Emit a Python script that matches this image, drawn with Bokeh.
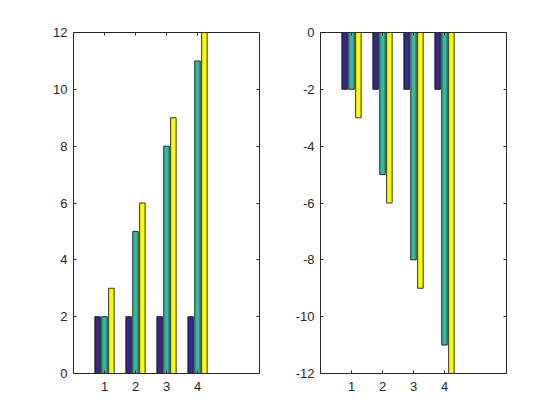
from bokeh.plotting import figure
from bokeh.layouts import row
from bokeh.models import LinearAxis, FixedTicker, Range1d, CustomJSTickFormatter
from bokeh.transform import dodge
from bokeh.models import ColumnDataSource
from bokeh.embed import file_html
from bokeh.resources import INLINE

groups = [1, 2, 3, 4]
series_1 = [2, 2, 2, 2]
series_2 = [2, 5, 8, 11]
series_3 = [3, 6, 9, 12]
neg_series_1 = [-2, -2, -2, -2]
neg_series_2 = [-2, -5, -8, -11]
neg_series_3 = [-3, -6, -9, -12]
left_yticks = [0, 2, 4, 6, 8, 10, 12]
right_yticks = [-12, -10, -8, -6, -4, -2, 0]

colors = ["#352a87", "#33b8a1", "#f9fb0e"]
offsets = [-0.2222, 0.0, 0.2222]
bar_w = 0.1778
AX = "#262626"
FONT = "Liberation Sans"


def make(series, yrange, yticks, bl, br):
    p = figure(frame_width=186, frame_height=341, output_backend="svg",
               toolbar_location=None, x_range=Range1d(0, 6),
               y_range=Range1d(*yrange),
               min_border_left=bl, min_border_right=br,
               min_border_top=32, min_border_bottom=30,
               background_fill_color="white", border_fill_color="white")
    p.grid.visible = False
    p.outline_line_color = None
    src = ColumnDataSource(dict(x=groups, s0=series[0], s1=series[1], s2=series[2]))
    for i, key in enumerate(["s0", "s1", "s2"]):
        p.vbar(x=dodge("x", offsets[i], range=p.x_range), top=key, bottom=0,
               width=bar_w, source=src, fill_color=colors[i],
               line_color="black", line_width=0.8)
    p.add_layout(LinearAxis(formatter=CustomJSTickFormatter(code="return ''")), "right")
    p.add_layout(LinearAxis(formatter=CustomJSTickFormatter(code="return ''")), "above")
    for ax in p.xaxis:
        ax.ticker = FixedTicker(ticks=groups)
    for ax in p.yaxis:
        ax.ticker = FixedTicker(ticks=yticks)
    for ax in p.axis:
        ax.major_tick_in = 3
        ax.major_tick_out = 0
        ax.minor_tick_line_color = None
        ax.axis_line_color = AX
        ax.major_tick_line_color = AX
        ax.axis_line_width = 1
        ax.major_label_text_color = AX
        ax.major_label_text_font = FONT
        ax.major_label_text_font_size = "13px"
    p.xaxis[1].formatter = CustomJSTickFormatter(code="return tick.toString()")
    p.yaxis[0].formatter = CustomJSTickFormatter(code="return tick.toString()")
    p.xaxis[1].major_label_standoff = 8
    p.yaxis[0].major_label_standoff = 6
    return p


p1 = make([series_1, series_2, series_3], (0, 12), left_yticks, 73, 20)
p2 = make([neg_series_1, neg_series_2, neg_series_3], (-12, 0), right_yticks, 41, 40)
layout = row(p1, p2)
open("out.html", "w").write(file_html(layout, INLINE))
